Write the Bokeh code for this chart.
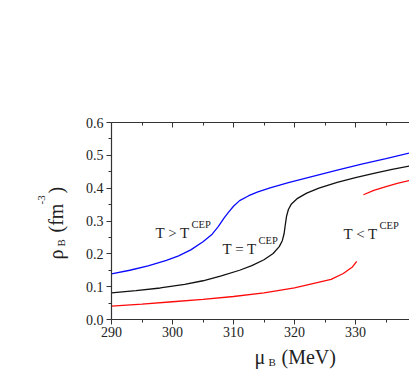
import math
from bokeh.plotting import figure
from bokeh.models import (LinearAxis, Label, Range1d, FixedTicker,
                          PrintfTickFormatter)
from bokeh.embed import file_html
from bokeh.resources import INLINE

# ---- data ----
mu_above = [290, 293, 296, 299, 301, 303, 305, 306.5, 307.5, 308.5, 309.2, 310,
            311, 312.5, 314, 316, 319, 323, 327, 331, 335, 339]
rho_above = [0.139, 0.150, 0.163, 0.180, 0.194, 0.212, 0.237, 0.260, 0.283, 0.310,
             0.327, 0.345, 0.362, 0.377, 0.389, 0.401, 0.417, 0.436, 0.455, 0.473,
             0.490, 0.508]

mu_cep = [290, 294, 298, 302, 305, 308, 311, 313, 315, 316.5, 317.5, 318.0, 318.3,
          318.5, 318.7, 319.0, 319.5, 320.5, 322, 324, 327, 330, 333, 336, 339]
rho_cep = [0.081, 0.088, 0.096, 0.107, 0.118, 0.133, 0.150, 0.164, 0.182, 0.201,
           0.222, 0.240, 0.262, 0.290, 0.315, 0.335, 0.352, 0.369, 0.385, 0.400,
           0.418, 0.432, 0.445, 0.457, 0.468]

mu_below_lo = [290, 295, 300, 305, 310, 315, 320, 323, 326, 328, 329.5, 330.2]
rho_below_lo = [0.041, 0.047, 0.054, 0.061, 0.070, 0.081, 0.096, 0.109, 0.122,
                0.140, 0.160, 0.177]

mu_below_hi = [331.3, 333, 335, 337, 339]
rho_below_hi = [0.380, 0.393, 0.405, 0.415, 0.424]

x_major = [290, 300, 310, 320, 330, 340]
x_minor = [295, 305, 315, 325, 335]
y_major = [0.0, 0.1, 0.2, 0.3, 0.4, 0.5, 0.6]
y_minor = [0.05, 0.15, 0.25, 0.35, 0.45, 0.55]
x_lo, x_hi = 290, 340
y_lo, y_hi = 0.0, 0.6

FONT = "Liberation Serif"
W, H = 409, 380

# pixel placement of the plotting box inside the canvas
PX_LEFT, PX_TOP, PX_BOTTOM = 111, 122, 319
PX_PER_X = 6.1                                   # pixels per MeV
PX_PER_Y = (PX_BOTTOM - PX_TOP) / (y_hi - y_lo)  # pixels per fm^-3

X0 = x_lo - PX_LEFT / PX_PER_X
X1 = x_lo + (W - PX_LEFT) / PX_PER_X
Y0 = y_lo - (H - PX_BOTTOM) / PX_PER_Y
Y1 = y_hi + PX_TOP / PX_PER_Y

p = figure(width=W, height=H, output_backend="svg", toolbar_location=None,
           x_range=Range1d(X0, X1), y_range=Range1d(Y0, Y1),
           min_border=0, min_border_left=0, min_border_right=0,
           min_border_top=0, min_border_bottom=0,
           x_axis_location=None, y_axis_location=None)
p.grid.visible = False
p.outline_line_color = None
p.background_fill_color = "white"
p.border_fill_color = "white"

def style_axis(ax, inward=False):
    ax.axis_line_color = "#333333"
    ax.axis_line_width = 1.2
    ax.major_tick_line_color = "#333333"
    ax.minor_tick_line_color = "#333333"
    if inward:
        ax.major_tick_in, ax.major_tick_out = 5, 0
        ax.minor_tick_in, ax.minor_tick_out = 3, 0
    else:
        ax.major_tick_in, ax.major_tick_out = 0, 5
        ax.minor_tick_in, ax.minor_tick_out = 0, 3
    ax.major_label_text_font = FONT
    ax.major_label_text_font_size = "14px"
    ax.major_label_text_color = "#222222"

xb = LinearAxis(ticker=FixedTicker(ticks=x_major, minor_ticks=x_minor),
                fixed_location=y_lo, bounds=(x_lo, x_hi))
style_axis(xb)
xb.major_label_standoff = 2
p.add_layout(xb, "below")

xt = LinearAxis(ticker=FixedTicker(ticks=x_major, minor_ticks=x_minor),
                fixed_location=y_hi, bounds=(x_lo, x_hi))
style_axis(xt, inward=True)
xt.major_label_text_alpha = 0.0
xt.major_label_text_font_size = "6px"
p.add_layout(xt, "above")

yl = LinearAxis(ticker=FixedTicker(ticks=y_major, minor_ticks=y_minor),
                formatter=PrintfTickFormatter(format="%.1f"),
                fixed_location=x_lo, bounds=(y_lo, y_hi))
style_axis(yl)
yl.major_label_standoff = 3
p.add_layout(yl, "left")

p.line(mu_above, rho_above, line_color="#0a0aff", line_width=1.3)
p.line(mu_cep, rho_cep, line_color="#111111", line_width=1.3)
p.line(mu_below_lo, rho_below_lo, line_color="#ff0a0a", line_width=1.3)
p.line(mu_below_hi, rho_below_hi, line_color="#ff0a0a", line_width=1.3)

# canvas pixel -> data helpers for annotation placement
def dx(px):
    return X0 + px / PX_PER_X
def dy(py):
    return Y1 - py / PX_PER_Y

def lab(text, px, py, size, angle=0.0):
    p.add_layout(Label(x=dx(px), y=dy(py), text=text, text_font=FONT,
                       text_font_size=f"{size}px", text_color="#222222",
                       text_align="left", text_baseline="alphabetic",
                       angle=angle))

# curve annotations
lab("T > T", 155, 232, 15)
lab("CEP", 191, 224, 10.5)
lab("T = T", 222, 248, 15)
lab("CEP", 258, 240, 10.5)
lab("T < T", 343, 233, 15)
lab("CEP", 379, 225, 10.5)

# x axis title
lab("\u03bc", 254, 356, 20)
lab("B", 268, 361, 11)
lab("(MeV)", 281, 356, 20)

# y axis title (rotated)
r = math.pi / 2
lab("\u03c1", 55, 259, 20, r)
lab("B", 60, 246, 11, r)
lab("(fm", 55, 232, 20, r)
lab("-3", 41, 204, 11, r)
lab(")", 55, 193, 20, r)

open("out.html", "w").write(file_html(p, INLINE))
